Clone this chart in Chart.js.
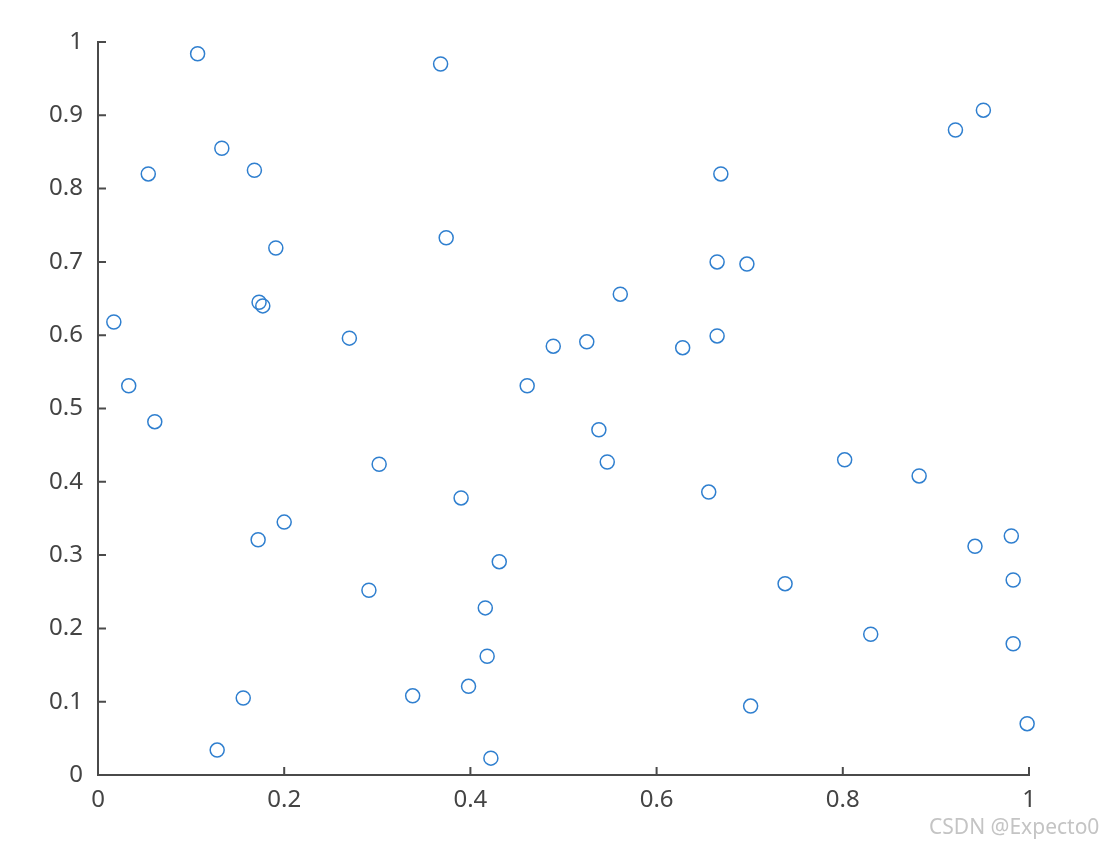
<!DOCTYPE html>
<html>
<head>
<meta charset="utf-8">
<script src="https://cdn.jsdelivr.net/npm/chart.js@4.4.0/dist/chart.umd.min.js"></script>
<style>
  html, body { margin: 0; padding: 0; background: #fff; }
  #wrap { position: relative; width: 1106px; height: 848px; }
  #mark { position: absolute; left: 929px; top: 812px; font: 21px "Noto Sans", sans-serif; color: #c4c4c4; }
</style>
</head>
<body>
<div id="wrap">
  <canvas id="plot" width="1106" height="848"></canvas>
  <div id="mark">CSDN @Expecto0</div>
</div>
<script>
// scatter points
const xs = [0.107, 0.368, 0.133, 0.054, 0.168, 0.669, 0.921, 0.951, 0.191, 0.374,
            0.665, 0.697, 0.173, 0.177, 0.017, 0.561, 0.270, 0.489, 0.525, 0.628,
            0.665, 0.033, 0.461, 0.061, 0.538, 0.547, 0.302, 0.390, 0.656, 0.802,
            0.882, 0.200, 0.172, 0.431, 0.942, 0.981, 0.983, 0.291, 0.738, 0.416,
            0.830, 0.983, 0.418, 0.156, 0.338, 0.398, 0.701, 0.128, 0.422, 0.998];
const ys = [0.984, 0.970, 0.855, 0.820, 0.825, 0.820, 0.880, 0.907, 0.719, 0.733,
            0.700, 0.697, 0.645, 0.640, 0.618, 0.656, 0.596, 0.585, 0.591, 0.583,
            0.599, 0.531, 0.531, 0.482, 0.471, 0.427, 0.424, 0.378, 0.386, 0.430,
            0.408, 0.345, 0.321, 0.291, 0.312, 0.326, 0.266, 0.252, 0.261, 0.228,
            0.192, 0.179, 0.162, 0.105, 0.108, 0.121, 0.094, 0.034, 0.023, 0.070];

const axisColor = '#4a4a4a';
const tickFont = { family: 'Noto Sans', size: 24 };

// matlab style ticks pointing into the plot
const innerTicks = {
    id: 'innerTicks',
    afterDraw(chart) {
        const ctx = chart.ctx;
        const { left, bottom } = chart.chartArea;
        const len = 8;
        ctx.save();
        ctx.strokeStyle = axisColor;
        ctx.lineWidth = 2;
        ctx.beginPath();
        chart.scales.x.ticks.forEach(t => {
            const px = chart.scales.x.getPixelForValue(t.value);
            ctx.moveTo(px, bottom);
            ctx.lineTo(px, bottom - len);
        });
        chart.scales.y.ticks.forEach(t => {
            const py = chart.scales.y.getPixelForValue(t.value);
            ctx.moveTo(left, py);
            ctx.lineTo(left + len, py);
        });
        ctx.stroke();
        ctx.restore();
    }
};

const fmt = v => String(Math.round(v * 10) / 10);

new Chart(document.getElementById('plot').getContext('2d'), {
    type: 'scatter',
    data: {
        datasets: [{
            data: xs.map((x, i) => ({ x, y: ys[i] })),
            pointStyle: 'circle',
            pointRadius: 7,
            pointBorderWidth: 1.5,
            borderColor: '#2f7fcf',
            backgroundColor: 'rgba(0,0,0,0)',
            clip: false
        }]
    },
    options: {
        responsive: false,
        animation: false,
        layout: { padding: { top: 42, right: 77, left: 0, bottom: 0 } },
        plugins: { legend: { display: false }, tooltip: { enabled: false } },
        scales: {
            x: {
                type: 'linear', min: 0, max: 1,
                afterFit: s => { s.height = 73; },
                border: { color: axisColor, width: 2 },
                grid: { drawOnChartArea: false, drawTicks: false },
                ticks: { stepSize: 0.2, padding: 11, color: '#444', font: tickFont, callback: fmt }
            },
            y: {
                type: 'linear', min: 0, max: 1,
                afterFit: s => { s.width = 98; },
                border: { color: axisColor, width: 2 },
                grid: { drawOnChartArea: false, drawTicks: false },
                ticks: { stepSize: 0.1, padding: 15, color: '#444', font: tickFont, callback: fmt }
            }
        }
    },
    plugins: [innerTicks]
});
</script>
</body>
</html>
